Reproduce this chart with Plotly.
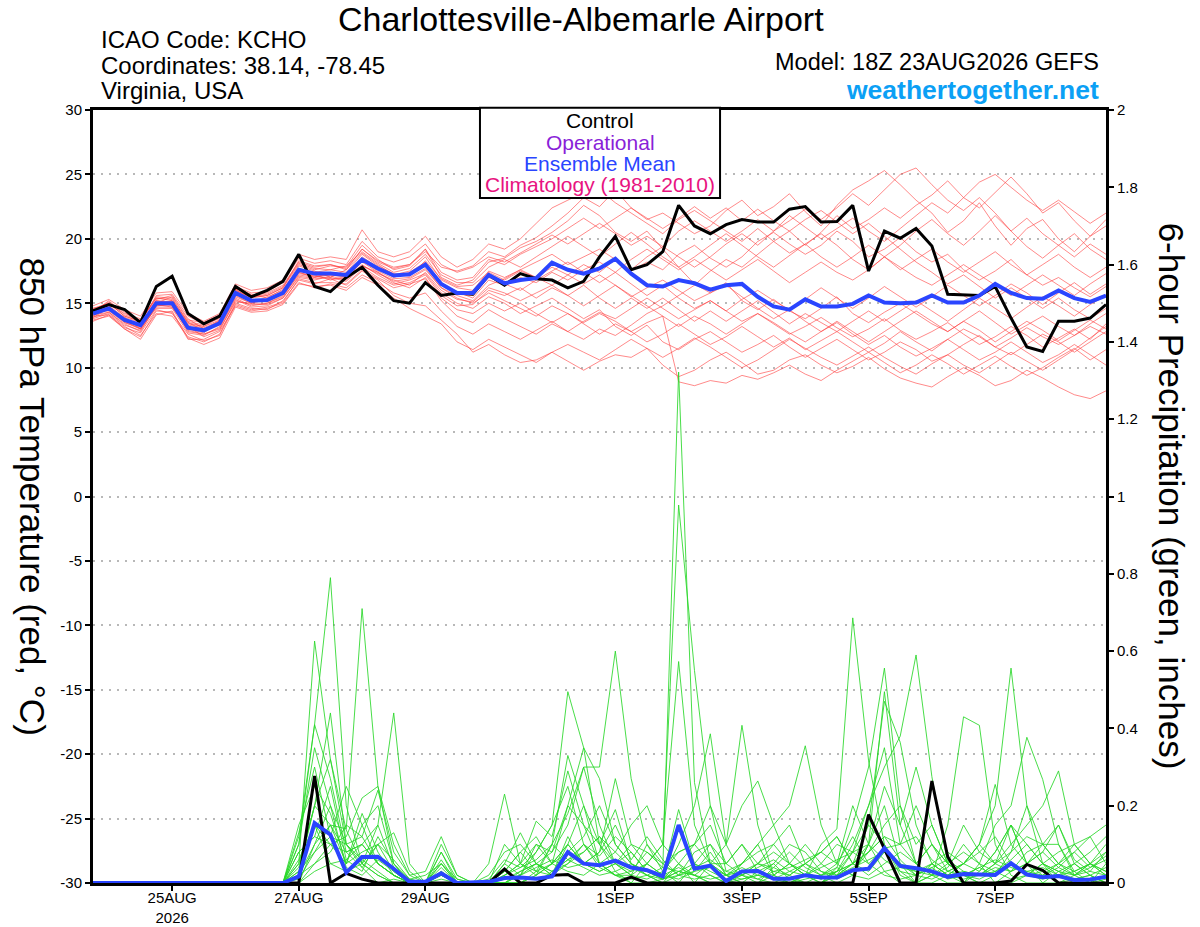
import pandas as pd
import plotly.graph_objects as go

# valid times, 6-hourly from the 18Z 23 Aug run
times = pd.date_range("2026-08-23 18:00", periods=65, freq="6h")

tick_dates = ["2026-08-25", "2026-08-27", "2026-08-29", "2026-09-01",
              "2026-09-03", "2026-09-05", "2026-09-07"]
tick_text = ["25AUG<br>2026", "27AUG", "29AUG", "1SEP", "3SEP", "5SEP", "7SEP"]
temp_ticks = [-30, -25, -20, -15, -10, -5, 0, 5, 10, 15, 20, 25, 30]
temp_ticktext = ["-30", "-25", "-20", "-15", "-10", "-5", "0", "5", "10", "15", "20", "25", "30"]
prcp_ticks = [0, 0.2, 0.4, 0.6, 0.8, 1.0, 1.2, 1.4, 1.6, 1.8, 2.0]
prcp_ticktext = ["0", "0.2", "0.4", "0.6", "0.8", "1", "1.2", "1.4", "1.6", "1.8", "2"]

# 850 hPa temperature (C)
t_ctrl = [14.4, 14.9, 14.5, 13.5, 16.3, 17.1, 14.2, 13.4, 14.0, 16.3, 15.5, 16.0, 16.7,
          18.8, 16.3, 15.9, 17.0, 17.8, 16.4, 15.2, 15.0, 16.6, 15.6, 15.8, 15.7,
          17.2, 16.4, 17.3, 16.9, 16.8, 16.2, 16.7, 18.6, 20.2, 17.6, 18.0, 19.0, 22.6, 21.0,
          20.4, 21.1, 21.5, 21.3, 21.3, 22.3, 22.5, 21.3, 21.35, 22.6, 17.5, 20.6, 20.05,
          20.8, 19.45, 15.7, 15.65, 15.6, 16.3, 13.85, 11.6, 11.25, 13.6, 13.6, 13.85, 14.9]
t_mean = [14.2, 14.6, 13.7, 13.3, 15.0, 15.0, 13.1, 12.9, 13.45, 15.8, 15.2, 15.25, 15.8,
          17.6, 17.3, 17.3, 17.2, 18.4, 17.7, 17.15, 17.25, 18.0, 16.5, 15.8, 15.8,
          17.2, 16.55, 16.8, 16.95, 18.15, 17.6, 17.3, 17.7, 18.45, 17.3, 16.4, 16.3, 16.8, 16.55,
          16.05, 16.4, 16.5, 15.5, 14.75, 14.5, 15.3, 14.75, 14.75, 14.95, 15.6, 15.05, 15.0,
          15.05, 15.6, 15.05, 15.05, 15.6, 16.5, 15.8, 15.4, 15.35, 16.0, 15.4, 15.1, 15.6]

t_m01 = [14.5, 15.0, 14.0, 13.6, 15.5, 15.4, 13.5, 13.2, 13.9, 16.2, 15.6, 15.8, 16.4,
         18.2, 17.8, 18.0, 17.6, 19.2, 18.3, 17.8, 18.0, 19.0, 17.8, 17.5, 17.9,
         19.0, 18.6, 19.5, 20.1, 21.0, 22.0, 23.2, 22.5, 23.8, 22.4, 21.5, 22.0, 21.2, 20.4,
         21.0, 22.2, 23.0, 21.8, 22.5, 23.5, 22.1, 21.0, 22.6, 23.8, 24.5, 25.3, 24.2,
         23.0, 22.0, 20.5, 21.4, 22.8, 21.0, 19.5, 20.8, 21.5, 20.0, 19.0, 20.2, 21.5]
t_m02 = [13.8, 14.2, 13.2, 12.5, 14.2, 14.0, 12.4, 12.0, 12.6, 15.0, 14.6, 14.5, 15.2,
         16.8, 16.5, 16.9, 16.4, 17.5, 16.8, 15.6, 15.0, 14.8, 13.7, 12.6, 11.2,
         11.8, 11.0, 10.4, 10.6, 11.2, 10.5, 9.8, 10.5, 11.0, 10.8, 11.5, 10.2, 9.3, 9.8,
         10.6, 11.2, 10.4, 9.5, 9.8, 10.6, 11.0, 10.2, 9.6, 10.1, 10.8, 9.9, 9.2,
         8.8, 8.5, 9.3, 10.0, 9.4, 8.6, 9.0, 9.8, 9.2, 8.5, 7.9, 7.6, 8.2]
t_m03 = [14.0, 14.8, 13.9, 13.0, 15.3, 15.6, 13.8, 13.0, 13.3, 15.5, 15.0, 15.5, 16.0,
         17.9, 17.5, 17.0, 17.6, 18.9, 18.0, 17.2, 17.5, 18.6, 16.8, 16.2, 16.0,
         17.5, 17.0, 17.6, 18.2, 18.8, 18.0, 18.6, 19.2, 18.4, 17.5, 18.2, 17.6, 18.8, 19.5,
         18.5, 17.8, 18.6, 19.8, 20.5, 19.6, 18.8, 19.5, 20.6, 19.8, 18.6, 19.2, 20.1,
         19.0, 18.2, 18.8, 17.6, 16.8, 17.5, 18.4, 17.2, 16.4, 17.0, 16.2, 15.5, 16.3]
t_m04 = [14.3, 14.4, 13.5, 13.1, 14.6, 14.6, 12.7, 12.5, 13.2, 15.4, 14.8, 15.0, 15.6,
         17.2, 17.0, 17.4, 17.0, 18.0, 17.2, 16.5, 16.8, 17.3, 15.8, 15.0, 14.6,
         15.5, 15.0, 14.2, 14.8, 15.4, 14.6, 13.8, 14.5, 13.2, 12.5, 13.3, 12.0, 11.4, 12.2,
         12.8, 12.0, 11.2, 11.8, 12.5, 11.6, 10.8, 11.5, 12.2, 11.4, 10.6, 11.2, 12.0,
         11.4, 10.5, 11.0, 11.8, 12.5, 11.6, 11.0, 11.8, 12.6, 12.0, 11.2, 12.0, 12.8]
t_m05 = [14.6, 14.9, 14.2, 13.8, 15.2, 15.1, 13.0, 12.7, 13.6, 16.0, 15.4, 15.6, 16.2,
         18.0, 17.6, 17.9, 17.8, 19.5, 18.4, 17.6, 17.9, 19.2, 17.0, 16.4, 16.8,
         18.2, 18.5, 19.3, 19.8, 20.5, 21.4, 22.6, 21.8, 20.5, 19.8, 20.6, 19.2, 17.8, 16.5,
         15.8, 16.6, 15.2, 14.5, 15.3, 14.4, 13.8, 14.6, 15.5, 14.2, 13.5, 14.3, 15.0,
         14.2, 13.4, 12.8, 13.6, 14.4, 13.5, 12.6, 13.3, 14.0, 13.2, 12.5, 13.4, 14.2]
t_m06 = [13.9, 14.3, 13.4, 12.8, 14.8, 14.9, 13.2, 12.4, 12.9, 15.2, 14.9, 14.9, 15.4,
         17.0, 16.8, 17.1, 16.8, 17.9, 17.4, 16.6, 16.2, 17.0, 15.2, 14.0, 13.5,
         14.5, 13.8, 13.2, 12.6, 13.4, 12.8, 12.2, 13.0, 12.5, 13.3, 14.2, 14.8, 15.6, 16.4,
         17.5, 18.4, 17.8, 18.8, 19.8, 20.6, 19.5, 20.5, 21.8, 20.8, 21.5, 22.4, 21.6,
         22.6, 23.4, 24.5, 23.2, 22.4, 23.6, 24.8, 23.5, 22.0, 22.8, 21.4, 20.2, 21.0]
t_m07 = [14.1, 14.7, 13.8, 13.4, 15.1, 14.8, 13.3, 13.1, 13.6, 16.1, 15.3, 15.1, 15.7,
         17.5, 17.2, 16.8, 17.1, 18.6, 17.8, 17.0, 17.4, 18.2, 16.6, 15.9, 15.4,
         16.8, 16.4, 17.0, 16.6, 17.4, 16.8, 17.6, 18.2, 17.4, 16.5, 15.6, 16.4, 15.4, 14.6,
         15.2, 14.4, 13.6, 14.2, 13.4, 12.6, 13.2, 13.9, 13.1, 12.4, 13.0, 13.8, 12.9,
         12.2, 12.8, 13.5, 12.6, 11.8, 12.4, 13.2, 12.5, 11.6, 12.3, 13.0, 12.2, 13.4]
t_m08 = [14.4, 15.1, 14.3, 13.5, 15.6, 15.7, 14.0, 13.4, 13.8, 16.3, 15.8, 15.9, 16.6,
         18.5, 18.1, 18.3, 18.0, 19.8, 18.6, 18.2, 18.6, 19.6, 18.0, 17.4, 17.8,
         18.6, 18.2, 18.9, 19.6, 20.3, 19.6, 20.4, 21.2, 20.4, 19.5, 20.2, 19.4, 20.6, 21.4,
         20.6, 19.8, 20.6, 21.5, 20.6, 21.4, 22.3, 21.5, 22.4, 23.5, 22.6, 23.8, 25.0,
         25.5, 24.2, 23.0, 22.2, 23.2, 22.0, 20.6, 21.6, 20.4, 19.5, 18.6, 19.6, 18.8]
t_m09 = [13.7, 14.0, 13.0, 12.4, 14.4, 14.3, 12.2, 12.2, 12.8, 14.8, 14.4, 14.6, 15.0,
         16.6, 16.2, 16.5, 16.2, 17.2, 16.6, 15.8, 15.4, 15.8, 14.4, 13.2, 12.6,
         13.4, 12.8, 12.2, 12.9, 13.6, 12.8, 13.6, 14.3, 13.8, 14.6, 15.4, 14.6, 13.8, 14.5,
         15.2, 14.4, 15.3, 16.0, 15.2, 14.5, 15.3, 16.2, 15.4, 14.6, 15.4, 16.3, 15.5,
         14.7, 15.5, 16.4, 15.6, 14.8, 15.6, 16.5, 15.8, 14.9, 15.8, 16.6, 15.7, 16.5]
t_m10 = [14.2, 14.5, 13.6, 13.2, 14.9, 15.2, 13.4, 13.2, 13.7, 15.7, 15.1, 15.3, 15.9,
         17.4, 17.0, 17.2, 17.3, 18.3, 17.5, 16.9, 17.0, 17.7, 16.2, 15.4, 15.0,
         15.8, 15.2, 14.6, 14.0, 14.8, 14.2, 13.5, 14.2, 13.6, 12.8, 13.5, 14.0, 8.9, 8.6,
         9.0, 8.8, 9.4, 9.1, 9.6, 10.2, 9.5, 9.0, 9.8, 10.5, 11.2, 10.4, 9.6,
         10.2, 11.0, 10.3, 9.5, 10.2, 10.9, 10.1, 9.4, 10.0, 10.8, 11.5, 10.6, 11.4]
t_m11 = [14.8, 15.3, 14.5, 14.0, 15.8, 15.9, 14.2, 13.6, 14.2, 16.5, 16.0, 16.2, 16.8,
         18.8, 18.4, 18.6, 18.4, 20.7, 19.0, 18.6, 19.0, 20.2, 18.6, 17.8, 18.4,
         19.6, 19.2, 20.0, 21.2, 22.4, 23.0, 23.6, 23.8, 22.8, 22.0, 21.2, 20.4, 21.5, 22.2,
         21.4, 20.6, 19.8, 20.8, 19.8, 18.9, 19.6, 18.6, 17.8, 18.6, 19.5, 18.6, 17.6,
         18.4, 19.2, 18.2, 17.4, 18.2, 19.0, 18.0, 17.2, 18.0, 18.8, 17.8, 17.0, 17.8]
t_m12 = [14.0, 14.1, 13.1, 12.7, 14.5, 14.2, 12.6, 12.1, 12.5, 14.9, 14.5, 14.7, 15.1,
         16.9, 16.6, 16.6, 16.5, 17.6, 16.9, 16.2, 16.5, 16.9, 15.4, 14.5, 14.2,
         15.0, 14.4, 15.0, 14.2, 13.5, 14.2, 13.4, 12.6, 13.4, 12.8, 12.0, 12.6, 13.4, 12.6,
         11.8, 12.4, 13.2, 12.4, 11.6, 12.3, 11.4, 12.1, 12.8, 12.0, 11.2, 11.9, 12.8,
         12.0, 11.3, 12.2, 13.0, 12.4, 11.6, 12.3, 13.1, 12.4, 11.8, 12.5, 13.2, 12.6]
t_m13 = [14.3, 15.2, 14.1, 13.7, 15.4, 15.3, 13.6, 13.3, 14.0, 16.4, 15.5, 15.7, 16.3,
         18.1, 17.7, 17.6, 17.9, 19.0, 18.1, 17.4, 17.7, 18.8, 17.2, 16.6, 16.6,
         17.8, 18.4, 17.8, 18.6, 19.4, 20.2, 19.4, 18.6, 19.6, 20.5, 19.6, 18.6, 17.8, 18.6,
         19.5, 20.4, 19.5, 18.6, 17.8, 18.7, 19.6, 20.4, 19.5, 18.4, 17.6, 18.6, 19.5,
         20.6, 21.5, 20.4, 19.5, 20.6, 21.8, 20.6, 19.4, 18.5, 19.5, 20.4, 19.2, 18.4]
t_m14 = [14.1, 14.3, 13.3, 12.9, 14.7, 14.7, 12.9, 12.6, 13.1, 15.3, 14.7, 14.8, 15.4,
         17.1, 16.9, 17.0, 16.7, 17.8, 17.0, 16.4, 16.6, 17.2, 15.6, 14.8, 14.9,
         16.0, 15.6, 16.2, 15.4, 16.2, 15.6, 16.4, 15.4, 14.6, 15.4, 14.6, 15.4, 14.5, 13.6,
         14.4, 13.6, 14.4, 15.2, 14.3, 13.4, 14.2, 13.5, 12.8, 13.6, 14.4, 13.6, 14.4,
         15.2, 14.4, 13.6, 14.5, 15.4, 14.6, 13.8, 14.7, 15.5, 14.8, 14.0, 14.9, 15.6]
t_m15 = [14.5, 14.6, 13.9, 13.5, 15.0, 15.5, 13.7, 13.5, 14.1, 16.1, 15.7, 15.4, 16.1,
         17.7, 17.4, 17.6, 17.4, 18.8, 17.9, 17.3, 17.1, 18.3, 16.9, 16.3, 16.4,
         17.4, 16.8, 17.5, 17.0, 17.8, 17.2, 18.0, 17.4, 18.4, 17.6, 18.6, 19.4, 18.6, 17.8,
         18.6, 19.6, 20.4, 19.5, 20.6, 21.8, 20.9, 20.0, 20.8, 21.6, 20.6, 19.8, 20.8,
         21.8, 22.8, 22.0, 23.2, 24.4, 25.0, 24.0, 23.0, 22.2, 23.0, 22.1, 21.2, 22.0]
t_m16 = [13.6, 14.1, 13.0, 12.2, 14.1, 14.4, 12.3, 11.8, 12.3, 14.7, 14.3, 14.4, 14.9,
         16.5, 16.3, 16.4, 16.0, 17.0, 16.4, 15.4, 14.6, 14.0, 13.4, 12.0, 11.4,
         12.2, 11.6, 11.0, 10.4, 11.2, 11.8, 11.2, 10.6, 11.4, 12.2, 11.5, 10.8, 11.5, 12.3,
         11.6, 10.8, 10.0, 10.6, 11.4, 12.2, 11.5, 10.8, 10.2, 10.9, 11.6, 10.8, 10.1,
         9.5, 10.3, 11.0, 10.2, 9.6, 10.4, 11.2, 10.5, 9.8, 10.6, 11.4, 12.3, 13.2]
t_m17 = [14.2, 14.5, 13.7, 13.3, 15.2, 15.0, 13.1, 12.8, 13.5, 15.9, 15.3, 15.2, 15.9,
         17.6, 17.4, 17.3, 17.2, 18.4, 17.6, 17.1, 17.2, 18.1, 16.4, 15.7, 15.6,
         17.0, 16.5, 16.0, 16.8, 17.5, 18.2, 17.4, 16.6, 17.4, 18.4, 19.2, 18.4, 17.6, 18.4,
         17.6, 16.8, 17.6, 18.4, 17.5, 16.6, 17.4, 18.2, 17.4, 16.8, 17.6, 18.6, 17.8,
         17.0, 16.4, 17.2, 18.0, 17.2, 16.4, 15.6, 16.4, 17.2, 16.4, 15.6, 16.5, 17.3]
t_m18 = [14.4, 14.8, 13.6, 13.0, 14.9, 14.7, 13.0, 12.9, 13.4, 15.6, 15.0, 15.3, 15.8,
         17.4, 17.1, 17.2, 17.0, 18.2, 17.4, 16.7, 16.9, 17.6, 16.2, 15.6, 15.2,
         16.4, 16.9, 17.6, 17.0, 16.4, 17.2, 16.5, 17.2, 16.4, 15.5, 16.2, 16.8, 16.0, 15.2,
         15.8, 16.4, 15.5, 14.6, 13.8, 14.5, 13.6, 12.8, 13.5, 12.6, 11.8, 12.5, 11.6,
         10.9, 11.5, 12.2, 11.4, 10.6, 11.2, 12.0, 11.2, 10.4, 11.0, 11.8, 11.0, 10.2]
t_m19 = [14.6, 15.0, 14.0, 13.6, 15.4, 15.2, 13.5, 12.9, 13.7, 16.0, 15.5, 15.6, 16.2,
         18.3, 17.9, 18.0, 17.7, 19.2, 18.2, 17.7, 18.0, 19.2, 17.4, 16.8, 17.0,
         18.4, 18.0, 18.8, 19.4, 20.0, 20.8, 21.6, 20.8, 21.6, 22.4, 21.6, 20.8, 21.6, 22.5,
         21.6, 22.4, 21.4, 22.3, 21.4, 20.6, 21.5, 22.2, 21.3, 20.4, 21.2, 20.2, 19.2,
         18.2, 17.4, 16.5, 17.2, 16.3, 15.4, 16.2, 15.4, 14.6, 15.4, 14.5, 13.8, 14.6]
t_m20 = [13.9, 14.6, 13.5, 13.0, 14.8, 14.9, 12.8, 12.6, 13.0, 15.1, 15.0, 15.0, 15.5,
         17.3, 17.1, 16.9, 16.9, 17.9, 17.3, 16.8, 16.4, 17.4, 16.0, 15.3, 15.1,
         16.2, 15.8, 15.2, 15.8, 16.4, 15.6, 14.8, 15.6, 16.4, 15.6, 14.8, 14.0, 13.2, 14.0,
         13.4, 12.6, 13.4, 14.2, 13.5, 12.7, 12.0, 12.8, 13.6, 12.8, 12.0, 12.8, 13.6,
         14.4, 13.6, 12.8, 13.6, 12.9, 12.0, 12.8, 13.6, 12.9, 12.1, 12.9, 13.7, 13.0]

# 6-hour precipitation (inches)
p_ctrl = [0, 0, 0, 0, 0, 0, 0, 0, 0, 0, 0, 0, 0,
          0, 0.277, 0, 0.025, 0.01, 0, 0, 0, 0, 0, 0, 0, 0,
          0.036, 0, 0, 0.02, 0.022, 0, 0, 0, 0.015, 0, 0, 0, 0,
          0, 0, 0, 0, 0, 0, 0, 0, 0, 0, 0.177, 0.09, 0,
          0, 0.264, 0.068, 0, 0, 0, 0.005, 0.048, 0.033, 0, 0, 0, 0]
p_mean = [0, 0, 0, 0, 0, 0, 0, 0, 0, 0, 0, 0, 0,
          0.017, 0.155, 0.125, 0.027, 0.067, 0.068, 0.037, 0.003, 0.003, 0.025, 0.0, 0.002, 0.003,
          0.013, 0.014, 0.011, 0.017, 0.08, 0.05, 0.046, 0.058, 0.04, 0.033, 0.017, 0.15, 0.037,
          0.045, 0.005, 0.03, 0.031, 0.011, 0.011, 0.02, 0.014, 0.014, 0.033, 0.037, 0.09, 0.044,
          0.038, 0.03, 0.016, 0.023, 0.022, 0.021, 0.051, 0.022, 0.015, 0.018, 0.008, 0.009, 0.016]

p_m01 = [0, 0, 0, 0, 0, 0, 0, 0, 0, 0, 0, 0, 0,
         0.12, 0.41, 0.79, 0.2, 0.05, 0.02, 0, 0, 0, 0.02, 0, 0, 0,
         0, 0.02, 0.08, 0.15, 0.495, 0.35, 0.1, 0.03, 0, 0, 0.01, 0.05, 0.02,
         0, 0, 0.03, 0.01, 0, 0, 0.02, 0.05, 0.02, 0.08, 0.1, 0.2, 0.05,
         0, 0.02, 0, 0, 0.03, 0.08, 0.15, 0.05, 0, 0, 0.01, 0.02, 0]
p_m02 = [0, 0, 0, 0, 0, 0, 0, 0, 0, 0, 0, 0, 0,
         0.05, 0.626, 0.32, 0.1, 0.04, 0, 0.01, 0, 0, 0, 0, 0, 0,
         0.02, 0.05, 0.03, 0.1, 0.18, 0.3, 0.3, 0.6, 0.27, 0.1, 0.03, 0, 0.05,
         0.1, 0.02, 0, 0, 0.04, 0.02, 0, 0, 0.03, 0.1, 0.2, 0.3, 0.38,
         0.59, 0.275, 0.05, 0.02, 0, 0, 0.03, 0.08, 0.1, 0.1, 0.03, 0, 0.02]
p_m03 = [0, 0, 0, 0, 0, 0, 0, 0, 0, 0, 0, 0, 0,
         0, 0.1, 0.15, 0.14, 0.71, 0.25, 0.05, 0, 0, 0.05, 0, 0, 0,
         0, 0, 0.02, 0.05, 0.1, 0.05, 0.03, 0.05, 0.1, 0.08, 0.04, 1.322, 0.26,
         0.05, 0, 0, 0.03, 0.05, 0.01, 0, 0.02, 0.05, 0.2, 0.1, 0.03, 0,
         0, 0.02, 0.04, 0.1, 0.05, 0, 0, 0.02, 0.05, 0.02, 0, 0, 0.01]
p_m04 = [0, 0, 0, 0, 0, 0, 0, 0, 0, 0, 0, 0, 0,
         0.03, 0.2, 0.44, 0.1, 0.05, 0.15, 0.44, 0.05, 0, 0, 0, 0, 0,
         0, 0, 0, 0.03, 0.06, 0.1, 0.05, 0.02, 0.03, 0.05, 0.1, 0.978, 0.55,
         0.2, 0.03, 0.05, 0.1, 0.02, 0, 0, 0, 0.02, 0.05, 0.15, 0.1, 0.03,
         0, 0, 0.02, 0.05, 0.1, 0.2, 0.556, 0.2, 0.05, 0, 0.02, 0.05, 0.03]
p_m05 = [0, 0, 0, 0, 0, 0, 0, 0, 0, 0, 0, 0, 0,
         0.1, 0.41, 0.27, 0.08, 0.1, 0.05, 0.02, 0, 0, 0.08, 0, 0, 0.05,
         0.23, 0.05, 0.02, 0.1, 0.33, 0.2, 0.05, 0.02, 0, 0.05, 0.02, 0.04, 0.02,
         0, 0, 0.02, 0.05, 0.08, 0.05, 0.02, 0, 0.04, 0.15, 0.3, 0.556, 0.2,
         0.05, 0.02, 0.15, 0.43, 0.408, 0.1, 0.02, 0, 0, 0.03, 0.05, 0.02, 0]
p_m06 = [0, 0, 0, 0, 0, 0, 0, 0, 0, 0, 0, 0, 0,
         0.02, 0.15, 0.1, 0.12, 0.22, 0.25, 0.1, 0.02, 0, 0, 0, 0, 0,
         0.05, 0.13, 0.05, 0.08, 0.2, 0.35, 0.27, 0.1, 0.05, 0.02, 0, 0.05, 0.1,
         0.2, 0.1, 0.408, 0.15, 0.02, 0, 0.02, 0.1, 0.14, 0.686, 0.316, 0.1, 0.02,
         0, 0.05, 0.02, 0, 0.05, 0.15, 0.2, 0.377, 0.268, 0.1, 0.02, 0, 0.05]
p_m07 = [0, 0, 0, 0, 0, 0, 0, 0, 0, 0, 0, 0, 0,
         0.05, 0.2, 0.32, 0.137, 0.05, 0.1, 0.03, 0, 0, 0.1, 0.02, 0, 0,
         0.1, 0.05, 0.16, 0.12, 0.29, 0.15, 0.1, 0.19, 0.05, 0.03, 0.02, 0.19, 0.05,
         0.02, 0, 0.05, 0.1, 0.15, 0.2, 0.355, 0.15, 0.05, 0.02, 0.1, 0.495, 0.15,
         0.05, 0.1, 0.05, 0.02, 0.02, 0.05, 0.1, 0.15, 0.2, 0.29, 0.1, 0.05, 0.02]
p_m08 = [0, 0, 0, 0, 0, 0, 0, 0, 0, 0, 0, 0, 0,
         0.15, 0.25, 0.18, 0.05, 0.18, 0.08, 0.02, 0, 0, 0, 0, 0, 0,
         0, 0.02, 0.05, 0.02, 0.05, 0.08, 0.12, 0.08, 0.15, 0.2, 0.1, 0.05, 0,
         0.05, 0.1, 0.2, 0.264, 0.15, 0.05, 0.02, 0, 0.02, 0.05, 0.08, 0.12, 0.1,
         0.2, 0.1, 0.03, 0.05, 0.1, 0.255, 0.1, 0.05, 0.02, 0.05, 0.08, 0.12, 0.15]
p_m09 = [0, 0, 0, 0, 0, 0, 0, 0, 0, 0, 0, 0, 0,
         0.02, 0.1, 0.2, 0.1, 0.12, 0.24, 0.08, 0.02, 0.03, 0.12, 0.02, 0, 0,
         0.02, 0.05, 0.1, 0.08, 0.15, 0.3, 0.15, 0.05, 0.02, 0.05, 0.1, 0.573, 0.15,
         0.05, 0.02, 0, 0, 0.02, 0.05, 0.03, 0.01, 0.03, 0.08, 0.15, 0.47, 0.364,
         0.15, 0.05, 0.02, 0.03, 0.02, 0.05, 0.03, 0.05, 0.1, 0.05, 0.02, 0.05, 0.08]
p_m10 = [0, 0, 0, 0, 0, 0, 0, 0, 0, 0, 0, 0, 0,
         0.08, 0.12, 0.1, 0.05, 0.08, 0.1, 0.13, 0.03, 0, 0.06, 0, 0, 0.02,
         0.08, 0.1, 0.05, 0.02, 0.1, 0.05, 0.08, 0.27, 0.1, 0.05, 0.02, 0.1, 0.2,
         0.386, 0.1, 0.02, 0, 0, 0.02, 0.05, 0.08, 0.12, 0.05, 0.02, 0.05, 0.08,
         0.05, 0.1, 0.05, 0.15, 0.08, 0.05, 0.15, 0.1, 0.05, 0.08, 0.1, 0.12, 0.05]
p_m11 = [0, 0, 0, 0, 0, 0, 0, 0, 0, 0, 0, 0, 0,
         0.13, 0.3, 0.12, 0.1, 0.06, 0.03, 0, 0, 0, 0.04, 0, 0, 0,
         0, 0, 0.03, 0.05, 0.1, 0.2, 0.1, 0.05, 0.03, 0.08, 0.05, 0.02, 0.03,
         0.08, 0.02, 0.05, 0.08, 0.1, 0.15, 0.05, 0.02, 0, 0.02, 0.1, 0.25, 0.15,
         0.3, 0.15, 0.05, 0.02, 0, 0.02, 0.08, 0.12, 0.1, 0.15, 0.05, 0.02, 0]
p_m12 = [0, 0, 0, 0, 0, 0, 0, 0, 0, 0, 0, 0, 0,
         0.03, 0.08, 0.15, 0.08, 0.1, 0.05, 0.02, 0, 0, 0.02, 0, 0, 0,
         0, 0.03, 0.05, 0.03, 0.05, 0.1, 0.07, 0.12, 0.08, 0.03, 0.01, 0.03, 0.05,
         0.03, 0.01, 0.02, 0.05, 0.03, 0.02, 0.05, 0.08, 0.12, 0.05, 0.03, 0.08, 0.05,
         0.02, 0.05, 0.08, 0.05, 0.1, 0.05, 0.08, 0.2, 0.1, 0.05, 0.03, 0.05, 0.1]
p_m13 = [0, 0, 0, 0, 0, 0, 0, 0, 0, 0, 0, 0, 0,
         0.04, 0.2, 0.15, 0.05, 0.15, 0.2, 0.05, 0, 0, 0.03, 0, 0, 0,
         0.03, 0.08, 0.12, 0.05, 0.2, 0.15, 0.05, 0.02, 0.02, 0.1, 0.05, 0.08, 0.1,
         0.05, 0.02, 0.01, 0.02, 0.05, 0.1, 0.08, 0.03, 0.01, 0.03, 0.08, 0.15, 0.2,
         0.1, 0.15, 0.05, 0.02, 0.01, 0.03, 0.05, 0.02, 0.01, 0.02, 0.05, 0.08, 0.12]
p_m14 = [0, 0, 0, 0, 0, 0, 0, 0, 0, 0, 0, 0, 0,
         0.08, 0.12, 0.25, 0.06, 0.03, 0.12, 0.05, 0.01, 0, 0.08, 0.01, 0, 0,
         0.05, 0.02, 0.1, 0.05, 0.08, 0.12, 0.2, 0.1, 0.05, 0.02, 0, 0.02, 0.08,
         0.1, 0.05, 0.1, 0.03, 0.02, 0.05, 0.1, 0.05, 0.1, 0.08, 0.2, 0.35, 0.1,
         0.05, 0.02, 0.02, 0.05, 0.08, 0.12, 0.05, 0.02, 0.03, 0.05, 0.1, 0.05, 0.02]
p_m15 = [0, 0, 0, 0, 0, 0, 0, 0, 0, 0, 0, 0, 0,
         0.06, 0.15, 0.05, 0.03, 0.05, 0.02, 0, 0, 0, 0.01, 0, 0, 0,
         0, 0, 0.02, 0.05, 0.03, 0.02, 0.05, 0.08, 0.04, 0.02, 0.01, 0.02, 0.01,
         0.02, 0, 0.01, 0.02, 0.01, 0, 0.01, 0.02, 0.04, 0.02, 0.01, 0.03, 0.04,
         0.03, 0.05, 0.02, 0.01, 0.02, 0.03, 0.01, 0.02, 0.05, 0.03, 0.01, 0.02, 0.04]
p_m16 = [0, 0, 0, 0, 0, 0, 0, 0, 0, 0, 0, 0, 0,
         0, 0.05, 0.08, 0.15, 0.12, 0.05, 0.02, 0, 0, 0, 0, 0, 0,
         0.03, 0.08, 0.03, 0.02, 0.12, 0.05, 0.03, 0.05, 0.08, 0.03, 0.01, 0.03, 0.02,
         0.05, 0.05, 0.1, 0.05, 0.1, 0.05, 0.02, 0.01, 0.03, 0.05, 0.08, 0.12, 0.06,
         0.02, 0.01, 0.03, 0.05, 0.03, 0.08, 0.15, 0.05, 0.08, 0.15, 0.06, 0.03, 0.08]
p_m17 = [0, 0, 0, 0, 0, 0, 0, 0, 0, 0, 0, 0, 0,
         0.1, 0.35, 0.2, 0.04, 0.02, 0.06, 0.03, 0, 0, 0.05, 0, 0, 0,
         0.01, 0.03, 0.05, 0.03, 0.06, 0.08, 0.12, 0.05, 0.02, 0.01, 0.03, 0.08, 0.1,
         0.15, 0.05, 0.02, 0.01, 0.03, 0.04, 0.06, 0.08, 0.05, 0.12, 0.05, 0.02, 0.01,
         0.02, 0.04, 0.01, 0.02, 0.04, 0.02, 0.05, 0.03, 0.02, 0.04, 0.08, 0.04, 0.06]
p_m18 = [0, 0, 0, 0, 0, 0, 0, 0, 0, 0, 0, 0, 0,
         0.02, 0.05, 0.1, 0.08, 0.04, 0.1, 0.06, 0.01, 0, 0.03, 0, 0, 0.01,
         0.06, 0.04, 0.08, 0.15, 0.25, 0.1, 0.04, 0.02, 0.01, 0.02, 0.04, 0.03, 0.02,
         0.01, 0.02, 0.04, 0.02, 0.01, 0.03, 0.05, 0.03, 0.02, 0.04, 0.06, 0.08, 0.05,
         0.03, 0.02, 0.05, 0.08, 0.05, 0.03, 0.06, 0.1, 0.05, 0.03, 0.02, 0.04, 0.07]
p_m19 = [0, 0, 0, 0, 0, 0, 0, 0, 0, 0, 0, 0, 0,
         0, 0.03, 0.05, 0.06, 0.1, 0.15, 0.04, 0.01, 0.02, 0.05, 0.01, 0, 0,
         0.01, 0.02, 0.04, 0.06, 0.04, 0.05, 0.08, 0.15, 0.06, 0.12, 0.06, 0.02, 0.04,
         0.06, 0.03, 0.02, 0.04, 0.06, 0.03, 0.02, 0.04, 0.06, 0.08, 0.05, 0.09, 0.1,
         0.12, 0.06, 0.03, 0.02, 0.04, 0.06, 0.04, 0.03, 0.04, 0.02, 0.03, 0.05, 0.03]
p_m20 = [0, 0, 0, 0, 0, 0, 0, 0, 0, 0, 0, 0, 0,
         0.01, 0.08, 0.12, 0.25, 0.15, 0.05, 0.02, 0, 0, 0.02, 0, 0, 0,
         0.02, 0.04, 0.06, 0.1, 0.06, 0.04, 0.02, 0.03, 0.05, 0.03, 0.02, 0.01, 0.03,
         0.04, 0.02, 0.03, 0.05, 0.04, 0.08, 0.04, 0.02, 0.03, 0.05, 0.1, 0.06, 0.03,
         0.02, 0.04, 0.06, 0.03, 0.02, 0.04, 0.03, 0.05, 0.08, 0.04, 0.02, 0.03, 0.02]

temp_members = [t_m01, t_m02, t_m03, t_m04, t_m05, t_m06, t_m07, t_m08, t_m09, t_m10,
                t_m11, t_m12, t_m13, t_m14, t_m15, t_m16, t_m17, t_m18, t_m19, t_m20]
prcp_members = [p_m01, p_m02, p_m03, p_m04, p_m05, p_m06, p_m07, p_m08, p_m09, p_m10,
                p_m11, p_m12, p_m13, p_m14, p_m15, p_m16, p_m17, p_m18, p_m19, p_m20]

for s in temp_members + prcp_members + [t_ctrl, t_mean, p_ctrl, p_mean]:
    assert len(s) == len(times), len(s)

FONT = "Liberation Sans, Arial, Helvetica, sans-serif"

fig = go.Figure()

for m in temp_members:
    fig.add_trace(go.Scatter(x=times, y=m, mode="lines", yaxis="y",
                             line=dict(color="rgba(255,60,60,0.6)", width=1),
                             hoverinfo="skip", showlegend=False))
fig.add_trace(go.Scatter(x=times, y=t_ctrl, mode="lines", yaxis="y",
                         line=dict(color="black", width=3), showlegend=False))
fig.add_trace(go.Scatter(x=times, y=t_mean, mode="lines", yaxis="y",
                         line=dict(color="#2a45ff", width=4), showlegend=False))

for m in prcp_members:
    fig.add_trace(go.Scatter(x=times, y=m, mode="lines", yaxis="y2",
                             line=dict(color="rgba(40,215,40,0.85)", width=1),
                             hoverinfo="skip", showlegend=False))
fig.add_trace(go.Scatter(x=times, y=p_ctrl, mode="lines", yaxis="y2",
                         line=dict(color="black", width=3), showlegend=False))
fig.add_trace(go.Scatter(x=times, y=p_mean, mode="lines", yaxis="y2",
                         line=dict(color="#2a45ff", width=4), showlegend=False))

fig.update_layout(
    width=1200, height=927,
    margin=dict(l=93, r=94, t=110, b=44, autoexpand=False),
    paper_bgcolor="white", plot_bgcolor="white",
    font=dict(family=FONT, color="black"),
    showlegend=False,
    xaxis=dict(type="date", range=[times[0], times[-1]], automargin=False,
               tickmode="array", tickvals=tick_dates, ticktext=tick_text,
               ticks="outside", ticklen=5, tickwidth=1.5, tickcolor="black",
               ticklabelstandoff=-6,
               tickfont=dict(size=15), showgrid=False, zeroline=False,
               showline=True, linewidth=3, linecolor="black", mirror=True),
    yaxis=dict(range=[-30, 30], automargin=False,
               tickmode="array", tickvals=temp_ticks, ticktext=temp_ticktext,
               ticks="outside", ticklen=5, tickwidth=1.5, tickcolor="black",
               tickfont=dict(size=15), showgrid=True, gridcolor="#b8b8b8",
               griddash="2px,6px", gridwidth=2, zeroline=False,
               showline=True, linewidth=3, linecolor="black"),
    yaxis2=dict(range=[0, 2], overlaying="y", side="right", automargin=False,
                tickmode="array", tickvals=prcp_ticks, ticktext=prcp_ticktext,
                ticks="outside", ticklen=5, tickwidth=1.5, tickcolor="black",
                tickfont=dict(size=15), showgrid=False, zeroline=False,
                showline=True, linewidth=3, linecolor="black"),
)

# legend box
fig.add_shape(type="rect", xref="paper", yref="paper", x0=0.382, x1=0.619, y0=0.886, y1=1.003,
              line=dict(color="black", width=2), fillcolor="white", layer="above")

legend_items = [("Control", "black", 0.9858), ("Operational", "#8a1fd8", 0.9586),
                ("Ensemble Mean", "#2a45ff", 0.9314), ("Climatology (1981-2010)", "#e8137f", 0.903)]
for txt, col, yy in legend_items:
    fig.add_annotation(text=txt, x=0.5005, y=yy, xref="paper", yref="paper",
                       showarrow=False, xanchor="center", yanchor="middle",
                       font=dict(size=21, color=col, family=FONT))

# titles and header texts
fig.add_annotation(text="Charlottesville-Albemarle Airport", x=0.4817, y=1.1177,
                   xref="paper", yref="paper", showarrow=False, xanchor="center", yanchor="middle",
                   font=dict(size=34, family=FONT))
for txt, yy in [("ICAO Code: KCHO", 1.0918), ("Coordinates: 38.14, -78.45", 1.0582),
                ("Virginia, USA", 1.0246)]:
    fig.add_annotation(text=txt, x=0.0059, y=yy, xref="paper", yref="paper",
                       showarrow=False, xanchor="left", yanchor="middle",
                       font=dict(size=24, family=FONT))
fig.add_annotation(text="Model: 18Z 23AUG2026 GEFS", x=0.9951, y=1.0620,
                   xref="paper", yref="paper", showarrow=False, xanchor="right", yanchor="middle",
                   font=dict(size=23.5, family=FONT))
fig.add_annotation(text="<b>weathertogether.net</b>", x=0.9951, y=1.0262,
                   xref="paper", yref="paper", showarrow=False, xanchor="right", yanchor="middle",
                   font=dict(size=26.5, color="#0ba0f5", family=FONT))

# axis titles (read top to bottom)
fig.add_annotation(text="850 hPa Temperature (red, °C)", x=-0.0602, y=0.5,
                   xref="paper", yref="paper", showarrow=False, textangle=90,
                   xanchor="center", yanchor="middle", font=dict(size=35, family=FONT))
fig.add_annotation(text="6-hour Precipitation (green, inches)", x=1.065, y=0.5,
                   xref="paper", yref="paper", showarrow=False, textangle=90,
                   xanchor="center", yanchor="middle", font=dict(size=35, family=FONT))

fig.write_html("out.html", config={"displayModeBar": False},
               post_script="document.body.style.margin='0';document.body.style.overflow='hidden';")
